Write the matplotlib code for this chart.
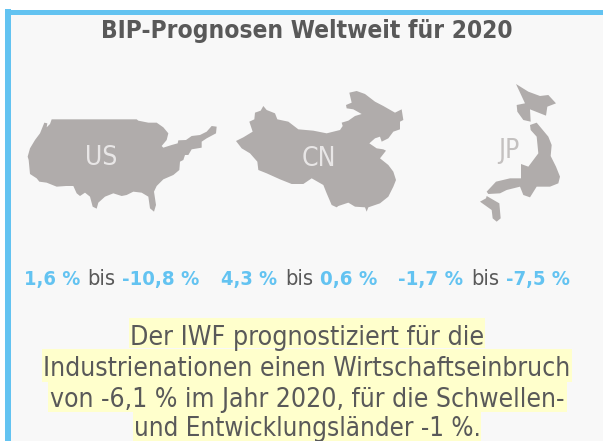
import matplotlib
matplotlib.use("Agg")
import matplotlib.pyplot as plt
from matplotlib.patches import Polygon, Rectangle

W, H = 603, 441
FONT = "DejaVu Sans"
STRETCH = "condensed"
BLUE = "#63c3f1"
GREY = "#595959"
MAP = "#b0acab"

title = "BIP-Prognosen Weltweit für 2020"
country_codes = ["US", "CN", "JP"]
ranges = [("1,6 %", "-10,8 %"), ("4,3 %", "0,6 %"), ("-1,7 %", "-7,5 %")]
body_lines = ["Der IWF prognostiziert für die",
              "Industrienationen einen Wirtschaftseinbruch",
              "von -6,1 % im Jahr 2020, für die Schwellen-",
              "und Entwicklungsländer -1 %."]

us_outline = [(155,118),(410,118),(415,122),(445,128),(470,128),(490,142),(505,160),(500,180),(485,198),(490,203),(515,195),(533,190),(535,181),(558,180),(575,168),(600,165),(620,155),(635,138),(650,140),(648,160),(620,175),(605,185),(605,203),(575,208),(565,225),(555,225),(550,240),(540,245),(538,270),(520,285),(490,298),(470,318),(462,335),(468,375),(462,395),(450,385),(445,350),(425,338),(400,335),(380,345),(365,348),(340,340),(315,350),(295,368),(290,386),(278,380),(270,350),(255,338),(240,348),(230,340),(220,318),(198,318),(170,320),(140,308),(118,305),(110,295),(90,282),(86,240),(83,230),(90,205),(105,180),(120,160),(133,128),(142,130),(140,142),(150,132)]
cn_outline = [(48,153),(70,142),(98,125),(88,95),(103,88),(105,68),(122,62),(130,48),(140,60),(165,70),(172,88),(205,95),(235,118),(280,122),(320,130),(360,120),(368,108),(365,98),(385,92),(405,78),(425,72),(400,58),(380,55),(378,45),(395,38),(388,8),(410,3),(435,12),(465,35),(490,48),(525,68),(545,58),(550,90),(540,95),(540,118),(520,125),(505,145),(485,155),(480,140),(465,145),(448,160),(470,175),(490,178),(498,182),(480,205),(505,225),(520,245),(528,270),(520,290),(505,320),(480,340),(445,352),(440,365),(435,352),(405,350),(385,338),(355,348),(350,352),(335,345),(320,310),(310,285),(275,265),(250,282),(215,282),(180,268),(140,250),(115,240),(112,215),(90,190),(65,175)]
jp_hokkaido = [(168,42),(205,65),(240,78),(265,75),(288,100),(262,110),(258,137),(210,118),(212,155),(190,150),(172,125),(170,105),(195,100)]
jp_honshu = [(210,165),(230,158),(265,200),(275,225),(272,258),(288,290),(300,320),(295,340),(270,350),(230,350),(210,382),(190,375),(180,350),(140,360),(120,370),(85,372),(80,365),(108,335),(150,325),(183,325),(183,282),(205,290),(235,250),(230,200),(212,180)]
jp_kyushu = [(80,378),(118,400),(122,445),(110,455),(98,445),(95,420),(60,395),(78,385)]

fig = plt.figure(figsize=(W/100, H/100), dpi=100, facecolor="white")
ax = fig.add_axes([0, 0, 1, 1])
ax.set_xlim(0, W); ax.set_ylim(H, 0); ax.axis("off")

ax.add_patch(Rectangle((5, 10), W-5, H-10, fc="#f8f8f8", ec="none", zorder=0))
ax.add_patch(Rectangle((5, 9), 6, H-9, fc=BLUE, ec="none", zorder=1))
ax.add_patch(Rectangle((5, 10), W-5, 5, fc=BLUE, ec="none", zorder=1))

def shape(points, ox, oy):
    ax.add_patch(Polygon([(ox + x/3, oy + y/3) for x, y in points], closed=True,
                         fc=MAP, ec="none", zorder=2))

shape(us_outline, 0, 80)
shape(cn_outline, 220, 90)
shape(jp_hokkaido, 460, 70)
shape(jp_honshu, 460, 70)
shape(jp_kyushu, 460, 70)

renderer = fig.canvas.get_renderer()
inv = ax.transData.inverted()
def width(t):
    bb = t.get_window_extent(renderer)
    return inv.transform((bb.x1, 0))[0] - inv.transform((bb.x0, 0))[0]

def fit(t, target):
    t.set_fontsize(t.get_fontsize() * target / width(t))

t = ax.text(307, 38, title, ha="center", va="baseline", fontsize=15, fontweight="bold",
            color=GREY, family=FONT, stretch=STRETCH, zorder=5)
fit(t, 412)

for code, x, y, c in zip(country_codes, [101, 319, 508.5], [165, 166, 158],
                         ["#e8e6e6", "#e8e6e6", "#c4c1c0"]):
    ax.text(x, y, code, ha="center", va="baseline", fontsize=19, color=c, family=FONT,
            stretch=STRETCH, zorder=5)

run_boxes = [[(24, 80), (87, 115), (122, 199)],
             [(221, 277), (285, 313), (320, 377)],
             [(398, 463), (471, 499), (506, 570)]]
for (lo, hi), boxes in zip(ranges, run_boxes):
    for s, col, w, (x0, x1) in zip((lo, "bis", hi), (BLUE, GREY, BLUE), ("bold", "normal", "bold"), boxes):
        t = ax.text(x0, 285, s, ha="left", va="baseline", fontsize=12, fontweight=w,
                    color=col, family=FONT, stretch=STRETCH, zorder=5)
        fit(t, x1 - x0)

tops = [318, 349, 382, 412]
bottoms = [348, 382, 412, 441]
bases = [345, 376, 407, 435.5]
targets = [356, 530, 519, 348]
for line, top, bot, base, target in zip(body_lines, tops, bottoms, bases, targets):
    t = ax.text(307, base, line, ha="center", va="baseline", fontsize=16,
                color=GREY, family=FONT, stretch=STRETCH, zorder=5)
    fit(t, target)
    ax.add_patch(Rectangle((307-target/2, top), target, bot-top, fc="#ffffcc", ec="none", zorder=3))

fig.savefig("out.png", dpi=100, facecolor="white")
